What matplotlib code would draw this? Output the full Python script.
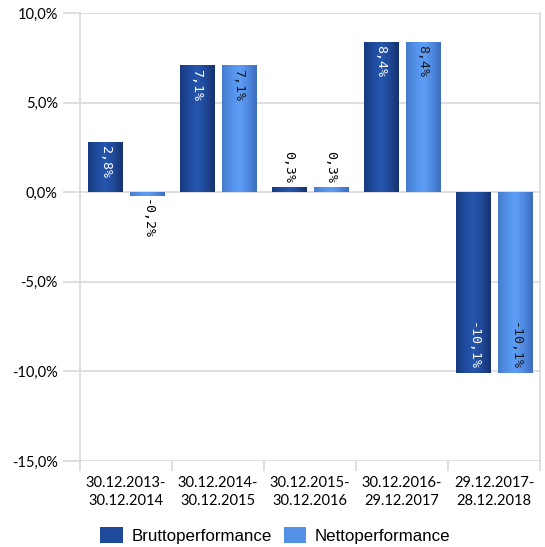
import matplotlib
matplotlib.use('Agg')
import matplotlib.pyplot as plt
import numpy as np
from matplotlib.colors import LinearSegmentedColormap
from matplotlib.patches import Patch

# Data
periods = ['30.12.2013-\n30.12.2014', '30.12.2014-\n30.12.2015', '30.12.2015-\n30.12.2016',
           '30.12.2016-\n29.12.2017', '29.12.2017-\n28.12.2018']
brutto = [2.8, 7.1, 0.3, 8.4, -10.1]
netto = [-0.2, 7.1, 0.3, 8.4, -10.1]
yticks = [10, 5, 0, -5, -10, -15]

brutto_cmap = LinearSegmentedColormap.from_list(
    'brutto', ['#173a82', '#1f4a9c', '#2656ae', '#1f4896', '#15326f'])
netto_cmap = LinearSegmentedColormap.from_list(
    'netto', ['#467ccc', '#5490e8', '#5e9ef7', '#5089e0', '#3d6dbd'])

fig = plt.figure(figsize=(5.45, 5.47), dpi=100)
ax = fig.add_axes([0.1468, 0.1572, 0.8440, 0.8190])

x = np.arange(len(periods))
w = 0.37
off = 0.228
grad = np.linspace(0, 1, 64).reshape(1, -1)


def grad_bars(xpos, vals, cmap):
    bars = ax.bar(xpos, vals, width=w, color='none', edgecolor='none', zorder=3)
    for b in bars:
        x0, y0 = b.get_x(), b.get_y()
        x1, y1 = x0 + b.get_width(), y0 + b.get_height()
        im = ax.imshow(grad, extent=[x0, x1, min(y0, y1), max(y0, y1)], cmap=cmap,
                       aspect='auto', zorder=3, interpolation='bicubic')
        im.set_clip_path(b)
    return bars


grad_bars(x - off, brutto, brutto_cmap)
grad_bars(x + off, netto, netto_cmap)


def fmt(v):
    return f'{v:.1f}%'.replace('.', ',')


def add_labels(xpos, vals, inside_color):
    kw = dict(rotation=270, ha='center', fontsize=9.5, family='DejaVu Sans Mono', zorder=5)
    for xi, v in zip(xpos, vals):
        if v >= 1:
            ax.text(xi, v - 0.2, fmt(v), va='top', color=inside_color, **kw)
        elif v <= -1:
            ax.text(xi, v + 0.2, fmt(v), va='bottom', color=inside_color, **kw)
        elif v >= 0:
            ax.text(xi, v + 0.2, fmt(v), va='bottom', color='black', **kw)
        else:
            ax.text(xi, v - 0.2, fmt(v), va='top', color='black', **kw)


add_labels(x - off, brutto, 'white')
add_labels(x + off, netto, '#1a1a1a')

ax.set_xlim(-0.5, len(periods) - 0.5)
ax.set_ylim(-15, 10)
ax.set_yticks(yticks)
ax.set_yticklabels([fmt(t) for t in yticks], fontsize=10.5, family='Lato')
ax.set_xticks(x)
ax.set_xticklabels(periods, fontsize=10.5, family='Lato', linespacing=1.35)
ax.set_xticks(np.arange(len(periods) + 1) - 0.5, minor=True)

ax.grid(axis='y', color='#d9d9d9', linewidth=1.2, zorder=0)
for s in ['top', 'bottom']:
    ax.spines[s].set_visible(False)
for s in ['left', 'right']:
    ax.spines[s].set_color('#d9d9d9')
    ax.spines[s].set_linewidth(1.2)
ax.tick_params(axis='y', length=12, color='#d9d9d9', width=1.2, pad=4)
ax.tick_params(axis='x', which='major', length=0, pad=11)
ax.tick_params(axis='x', which='minor', length=7, color='#d9d9d9', width=1.2)

handles = [Patch(facecolor='#1f4a9c', label='Bruttoperformance'),
           Patch(facecolor='#5490e8', label='Nettoperformance')]
fig.legend(handles=handles, loc='center', bbox_to_anchor=(0.505, 0.021), ncol=2,
           frameon=False, prop={'family': 'Liberation Sans', 'size': 12.2},
           handlelength=1.35, handleheight=1.1, columnspacing=0.7, handletextpad=0.5,
           borderpad=0)

fig.savefig('out.png', dpi=100)
